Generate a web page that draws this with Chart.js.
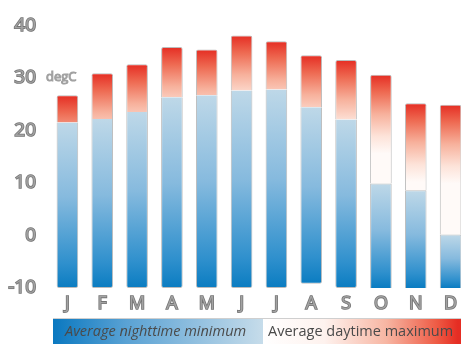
<!DOCTYPE html>
<html>
<head>
<meta charset="utf-8">
<script src="https://cdn.jsdelivr.net/npm/chart.js@4/dist/chart.umd.min.js"></script>
<style>
  html, body { margin: 0; padding: 0; background: #fff; overflow: hidden; width: 461px; height: 344px; }
  canvas { display: block; }
</style>
</head>
<body>
<canvas id="climate" width="468" height="344"></canvas>
<script>
// Monthly climate: average nighttime minimum and daytime maximum, degC
const months   = ['J', 'F', 'M', 'A', 'M', 'J', 'J', 'A', 'S', 'O', 'N', 'D'];
const nightMin = [21.5, 22.2, 23.5, 26.3, 26.7, 27.6, 27.8, 24.4, 22.1, 9.9, 8.6, 0.2];
const dayMax   = [26.7, 30.9, 32.6, 35.9, 35.4, 38.1, 37.0, 34.3, 33.4, 30.6, 25.2, 24.9];
const barBase  = [-10, -10, -10, -10, -10, -10, -10, -9.2, -10, -10, -10, -10];
const yTicks   = [-10, 0, 10, 20, 30, 40];
const unitLabel = 'degC';
const legendLabels = ['Average nighttime minimum', 'Average daytime maximum'];

const FONT = "'Open Sans', 'DejaVu Sans', sans-serif";

// Blue fill: light at the nightly minimum, deep blue at the bar foot
function blueFill(ctx) {
  const chart = ctx.chart;
  if (!chart.chartArea || ctx.dataIndex === undefined) return '#7fb5dc';
  const y = chart.scales.y;
  const i = ctx.dataIndex;
  const top = y.getPixelForValue(nightMin[i]);
  const bot = y.getPixelForValue(barBase[i]);
  const g = chart.ctx.createLinearGradient(0, top, 0, bot);
  g.addColorStop(0, '#bed8e8');
  g.addColorStop(0.45, '#86bade');
  g.addColorStop(0.85, '#2f90cd');
  g.addColorStop(1, '#0a7cc1');
  return g;
}

// Red fill: hot red at the daytime maximum, fading to white about 15 degrees lower
function redFill(ctx) {
  const chart = ctx.chart;
  if (!chart.chartArea || ctx.dataIndex === undefined) return '#f39a85';
  const y = chart.scales.y;
  const i = ctx.dataIndex;
  const top = y.getPixelForValue(dayMax[i]);
  const span = y.getPixelForValue(0) - y.getPixelForValue(15);
  const g = chart.ctx.createLinearGradient(0, top, 0, top + span);
  g.addColorStop(0, '#e52d23');
  g.addColorStop(0.22, '#ee6a52');
  g.addColorStop(0.5, '#f7b19c');
  g.addColorStop(0.78, '#fde3d9');
  g.addColorStop(1, '#fffaf8');
  return g;
}

// Unit caption beside the 30 tick and the gradient key under the axis
const decorations = {
  id: 'decorations',
  afterDraw(chart) {
    const c = chart.ctx;
    const area = chart.chartArea;
    const y = chart.scales.y;

    c.save();
    c.font = '13px ' + FONT;
    c.textAlign = 'left';
    c.textBaseline = 'middle';
    c.lineWidth = 1;
    c.strokeStyle = 'rgba(90,90,90,0.6)';
    c.fillStyle = '#a3a3a3';
    c.strokeText(unitLabel, area.left - 4, y.getPixelForValue(30) - 1);
    c.fillText(unitLabel, area.left - 4, y.getPixelForValue(30) - 1);

    const L = area.left + 3, T = 319, B = chart.height, R = chart.width, M = 263;
    const gb = c.createLinearGradient(L, 0, M, 0);
    gb.addColorStop(0, '#0a78c0');
    gb.addColorStop(0.35, '#5aa2d4');
    gb.addColorStop(1, '#c6dcea');
    c.fillStyle = gb;
    c.fillRect(L, T, M - L, B - T);

    const gr = c.createLinearGradient(M, 0, R, 0);
    gr.addColorStop(0, '#ffffff');
    gr.addColorStop(0.3, '#fef2ee');
    gr.addColorStop(0.6, '#f7b6a3');
    gr.addColorStop(0.85, '#ee5a44');
    gr.addColorStop(0.95, '#e52d23');
    c.fillStyle = gr;
    c.fillRect(M, T, R - M, B - T);

    c.strokeStyle = '#cfcfcf';
    c.lineWidth = 1;
    c.beginPath();
    c.moveTo(L, T - 0.5);
    c.lineTo(R, T - 0.5);
    c.stroke();

    c.fillStyle = '#4a4a4a';
    c.textBaseline = 'middle';
    c.font = 'italic 14.5px ' + FONT;
    c.fillText(legendLabels[0], L + 12, T + 13);
    c.font = '14.5px ' + FONT;
    c.fillText(legendLabels[1], M + 5, T + 13);
    c.restore();
  }
};

new Chart(document.getElementById('climate'), {
  type: 'bar',
  data: {
    labels: months,
    datasets: [
      {
        label: legendLabels[0],
        data: nightMin.map((v, i) => [barBase[i], v]),
        backgroundColor: blueFill,
        borderColor: '#bcbcbc',
        borderWidth: 1,
        borderSkipped: 'top',
        borderRadius: { bottomLeft: 2, bottomRight: 2, topLeft: 0, topRight: 0 },
        grouped: false,
        barPercentage: 0.62,
        categoryPercentage: 1
      },
      {
        label: legendLabels[1],
        data: dayMax.map((v, i) => [nightMin[i], v]),
        backgroundColor: redFill,
        borderColor: '#bcbcbc',
        borderWidth: 1,
        borderSkipped: 'bottom',
        borderRadius: { topLeft: 2, topRight: 2, bottomLeft: 0, bottomRight: 0 },
        grouped: false,
        barPercentage: 0.62,
        categoryPercentage: 1
      }
    ]
  },
  options: {
    responsive: false,
    animation: false,
    devicePixelRatio: 1,
    layout: { padding: { top: 17, bottom: 26, left: 0, right: 0 } },
    plugins: { legend: { display: false }, tooltip: { enabled: false } },
    scales: {
      x: {
        grid: { display: false, drawTicks: false },
        border: { display: false },
        ticks: {
          padding: 5,
          color: '#a3a3a3',
          textStrokeColor: 'rgba(70,70,70,0.75)',
          textStrokeWidth: 1.6,
          font: { family: FONT, size: 18, weight: 'normal' }
        },
        afterFit(scale) { scale.height = 30; }
      },
      y: {
        min: -10,
        max: 40,
        grid: { display: false, drawTicks: false },
        border: { display: false },
        afterBuildTicks(scale) { scale.ticks = yTicks.map(v => ({ value: v })); },
        ticks: {
          padding: 14,
          color: '#a3a3a3',
          textStrokeColor: 'rgba(70,70,70,0.75)',
          textStrokeWidth: 1.6,
          font: { family: FONT, size: 19, weight: 'normal' }
        },
        afterFit(scale) { scale.width = 50; }
      }
    }
  },
  plugins: [decorations]
});
</script>
</body>
</html>
